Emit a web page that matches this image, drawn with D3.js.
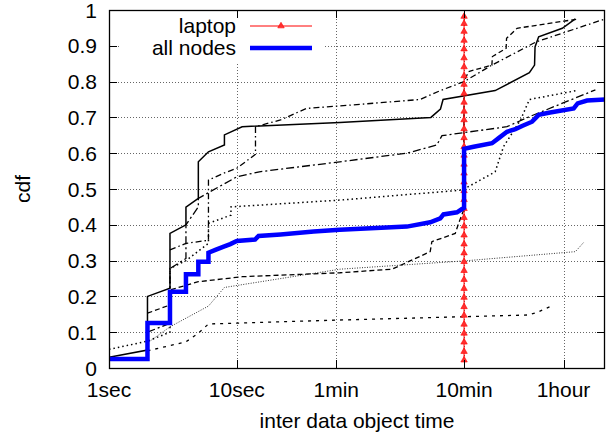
<!DOCTYPE html>
<html>
<head>
<meta charset="utf-8">
<script src="https://cdn.jsdelivr.net/npm/d3@7"></script>
<style>
  body { margin: 0; background: #fff; }
  svg text { font-family: "Liberation Sans", Arial, sans-serif; font-size: 21px; fill: #000; }
</style>
</head>
<body>
<div id="chart"></div>
<script>
// x ticks (seconds) and their labels
const xTickValues = [1, 10, 60, 600, 3600];
const xTickLabels = ["1sec", "10sec", "1min", "10min", "1hour"];
const yTickValues = [0, 0.1, 0.2, 0.3, 0.4, 0.5, 0.6, 0.7, 0.8, 0.9, 1];
const yTickLabels = ["0", "0.1", "0.2", "0.3", "0.4", "0.5", "0.6", "0.7", "0.8", "0.9", "1"];

// laptop: every data object 10 minutes apart
const laptopTimes = [600, 600, 600, 600, 600, 600, 600, 600, 600, 600,
  600, 600, 600, 600, 600, 600, 600, 600, 600, 600,
  600, 600, 600, 600, 600, 600, 600, 600, 600, 600,
  600, 600, 600, 600, 600, 600, 600, 600, 600, 600];
const laptopCdf = [0.022, 0.046, 0.072, 0.097, 0.122, 0.147, 0.171, 0.197, 0.222, 0.247,
  0.272, 0.297, 0.321, 0.346, 0.371, 0.396, 0.420, 0.445, 0.470, 0.495,
  0.519, 0.544, 0.569, 0.594, 0.618, 0.643, 0.668, 0.693, 0.717, 0.742,
  0.767, 0.792, 0.816, 0.841, 0.866, 0.891, 0.915, 0.940, 0.962, 0.982];

// all nodes together
const allNodes = [[1, 0.025], [2, 0.025], [2, 0.126], [3, 0.126], [3, 0.213], [4, 0.213], [4, 0.262],
  [5, 0.262], [5, 0.297], [6, 0.297], [6, 0.322], [6.8, 0.33], [7.9, 0.339], [8.9, 0.346],
  [10, 0.355], [13.9, 0.359], [14.8, 0.369], [22, 0.373], [40, 0.381], [64, 0.386],
  [214, 0.395], [326, 0.407], [391, 0.418], [414, 0.429], [528, 0.435], [578, 0.444],
  [600, 0.447], [600, 0.612], [713, 0.618], [993, 0.628], [1119, 0.642], [1300, 0.66],
  [1512, 0.667], [1706, 0.676], [2043, 0.688], [2303, 0.707], [2756, 0.713], [4324, 0.725],
  [4645, 0.739], [5502, 0.747], [7600, 0.75]];

// single nodes
const nodeSolid = [[1, 0.03], [2, 0.05], [2, 0.2], [3, 0.223], [3, 0.376], [4, 0.4], [4, 0.449],
  [5, 0.474], [5, 0.576], [6, 0.604], [8, 0.623], [8, 0.651], [11, 0.674], [64, 0.686],
  [330, 0.70], [392, 0.723], [411, 0.75], [1051, 0.775], [1946, 0.825], [2136, 0.846],
  [2155, 0.897], [2300, 0.925], [3520, 0.949], [4450, 0.975]];
const nodeDashDot = [[3, 0.33], [4, 0.348], [6, 0.357], [6, 0.525], [8, 0.545], [10, 0.558],
  [14, 0.597], [14, 0.674], [22, 0.693], [35, 0.725], [64, 0.732], [271, 0.75], [392, 0.775],
  [600, 0.80], [990, 0.846], [2200, 0.911], [7600, 0.975]];
const nodeDashed = [[2, 0.153], [3, 0.176], [3, 0.218], [5, 0.241], [11, 0.255], [64, 0.266],
  [164, 0.276], [220, 0.297], [326, 0.325], [336, 0.353], [512, 0.376], [544, 0.404],
  [595, 0.441], [600, 0.80], [650, 0.828], [990, 0.846], [1000, 0.87], [1280, 0.893],
  [1290, 0.921], [1560, 0.949], [4700, 0.975]];
const nodeDotted = [[1, 0.052], [2, 0.075], [3, 0.10], [3, 0.278], [4, 0.30], [6, 0.348],
  [6, 0.404], [9, 0.427], [9, 0.45], [64, 0.469], [580, 0.497], [1051, 0.548], [1220, 0.618],
  [1660, 0.693], [1946, 0.75], [4560, 0.775]];
const nodeLongDashDot = [[2, 0.10], [3, 0.125], [3, 0.278], [4, 0.306], [4, 0.40], [5, 0.45],
  [5, 0.474], [10, 0.534], [15, 0.548], [64, 0.576], [214, 0.60], [367, 0.623], [403, 0.649],
  [1300, 0.674], [1946, 0.702], [6392, 0.777]];
const nodeFineDot = [[2, 0.07], [3, 0.115], [6, 0.173], [8, 0.225], [64, 0.276], [595, 0.299],
  [4460, 0.325], [5180, 0.351]];
const nodeSparseDot = [[2, 0.048], [4, 0.073], [5, 0.097], [6, 0.123], [64, 0.134],
  [1866, 0.148], [2234, 0.155], [2930, 0.174]];

const legendNames = ["laptop", "all nodes"];

function drawChart() {
  const width = 610;
  const height = 435;
  const margin = { t: 10, r: 5, b: 67, l: 109 };

  const svg = d3
    .select("#chart")
    .append("svg")
    .attr("width", width)
    .attr("height", height);

  const x = d3
    .scaleLog()
    .domain([1, 7600])
    .range([margin.l, width - margin.r]);
  const y = d3
    .scaleLinear()
    .domain([0, 1])
    .range([height - margin.b, margin.t]);

  const x0 = margin.l;
  const x1 = width - margin.r;
  const y0 = height - margin.b;
  const y1 = margin.t;

  // grid
  const grid = svg.append("g")
    .attr("stroke", "#666")
    .attr("stroke-width", 1)
    .attr("stroke-dasharray", "1,2");
  yTickValues.slice(1, -1).forEach((v) => {
    grid.append("line")
      .attr("x1", x0).attr("x2", x1)
      .attr("y1", Math.round(y(v)) + 0.5).attr("y2", Math.round(y(v)) + 0.5);
  });
  xTickValues.slice(1).forEach((v) => {
    grid.append("line")
      .attr("x1", Math.round(x(v)) + 0.5).attr("x2", Math.round(x(v)) + 0.5)
      .attr("y1", y0).attr("y2", y1);
  });

  const line = d3.line()
    .x((d) => x(d[0]))
    .y((d) => y(d[1]));

  svg.append("clipPath").attr("id", "plot-clip")
    .append("rect")
    .attr("x", x0).attr("y", y1)
    .attr("width", x1 - x0).attr("height", y0 - y1);

  const plot = svg.append("g").attr("clip-path", "url(#plot-clip)");

  const nodes = [
    { data: nodeSparseDot, dash: "3,5", w: 1.3, color: "#000" },
    { data: nodeFineDot, dash: "1,1.5", w: 1, color: "#333" },
    { data: nodeLongDashDot, dash: "8,3,2,3", w: 1.3, color: "#000" },
    { data: nodeDotted, dash: "1.5,3", w: 1.5, color: "#000" },
    { data: nodeDashed, dash: "5,3", w: 1.3, color: "#000" },
    { data: nodeDashDot, dash: "6,3,1.5,3", w: 1.3, color: "#000" },
    { data: nodeSolid, dash: null, w: 1.5, color: "#000" },
  ];
  nodes.forEach((n) => {
    plot.append("path")
      .datum(n.data)
      .attr("fill", "none")
      .attr("stroke", n.color)
      .attr("stroke-width", n.w)
      .attr("stroke-dasharray", n.dash)
      .attr("d", line);
  });

  // laptop (red with triangles)
  const laptop = laptopTimes.map((t, i) => [t, laptopCdf[i]]);
  plot.append("path")
    .datum(laptop)
    .attr("fill", "none")
    .attr("stroke", "#ff0000")
    .attr("stroke-width", 1)
    .attr("d", line);
  const tri = d3.symbol().type(d3.symbolTriangle).size(18);
  plot.selectAll(".tri")
    .data(laptop)
    .join("path")
    .attr("class", "tri")
    .attr("d", tri)
    .attr("transform", (d) => `translate(${x(d[0])},${y(d[1])})`)
    .attr("fill", "#ff3030")
    .attr("stroke", "#ff0000")
    .attr("stroke-width", 0.6);

  // all nodes (thick blue), drawn over the laptop line
  plot.append("path")
    .datum(allNodes)
    .attr("fill", "none")
    .attr("stroke", "#0000ff")
    .attr("stroke-width", 4.5)
    .attr("stroke-linejoin", "miter")
    .attr("d", line);

  // legend with opaque box
  svg.append("rect")
    .attr("x", 121).attr("y", y1 + 1)
    .attr("width", 204).attr("height", 52)
    .attr("fill", "#fff");
  const legendY = [26, 48];
  legendNames.forEach((name, i) => {
    svg.append("text")
      .attr("x", 236)
      .attr("y", legendY[i] + 7)
      .attr("text-anchor", "end")
      .text(name);
  });
  svg.append("line")
    .attr("x1", 250).attr("x2", 312)
    .attr("y1", legendY[0]).attr("y2", legendY[0])
    .attr("stroke", "#ff0000").attr("stroke-width", 1);
  svg.append("path")
    .attr("d", tri)
    .attr("transform", `translate(281,${legendY[0]})`)
    .attr("fill", "#ff3030")
    .attr("stroke", "#ff0000")
    .attr("stroke-width", 0.6);
  svg.append("line")
    .attr("x1", 250).attr("x2", 312)
    .attr("y1", legendY[1]).attr("y2", legendY[1])
    .attr("stroke", "#0000ff").attr("stroke-width", 4.5);

  // ticks (inside, mirrored)
  const ticks = svg.append("g").attr("stroke", "#000").attr("stroke-width", 1);
  yTickValues.forEach((v) => {
    const yy = Math.round(y(v)) + 0.5;
    ticks.append("line").attr("x1", x0).attr("x2", x0 + 8).attr("y1", yy).attr("y2", yy);
    ticks.append("line").attr("x1", x1).attr("x2", x1 - 8).attr("y1", yy).attr("y2", yy);
  });
  xTickValues.forEach((v) => {
    const xx = Math.round(x(v)) + 0.5;
    ticks.append("line").attr("x1", xx).attr("x2", xx).attr("y1", y0).attr("y2", y0 - 8);
    ticks.append("line").attr("x1", xx).attr("x2", xx).attr("y1", y1).attr("y2", y1 + 8);
  });

  // border
  svg.append("rect")
    .attr("x", x0 + 0.5).attr("y", y1 + 0.5)
    .attr("width", x1 - x0 - 1).attr("height", y0 - y1)
    .attr("fill", "none")
    .attr("stroke", "#000")
    .attr("stroke-width", 1.3);

  // tick labels
  yTickValues.forEach((v, i) => {
    svg.append("text")
      .attr("x", 97)
      .attr("y", y(v) + 7.5)
      .attr("text-anchor", "end")
      .text(yTickLabels[i]);
  });
  xTickValues.forEach((v, i) => {
    svg.append("text")
      .attr("x", x(v))
      .attr("y", 397)
      .attr("text-anchor", "middle")
      .text(xTickLabels[i]);
  });

  // axis titles
  svg.append("text")
    .attr("x", (x0 + x1) / 2)
    .attr("y", 428)
    .attr("text-anchor", "middle")
    .text("inter data object time");
  svg.append("text")
    .attr("transform", `translate(30,${(y0 + y1) / 2}) rotate(-90)`)
    .attr("text-anchor", "middle")
    .text("cdf");
}

drawChart();
</script>
</body>
</html>
